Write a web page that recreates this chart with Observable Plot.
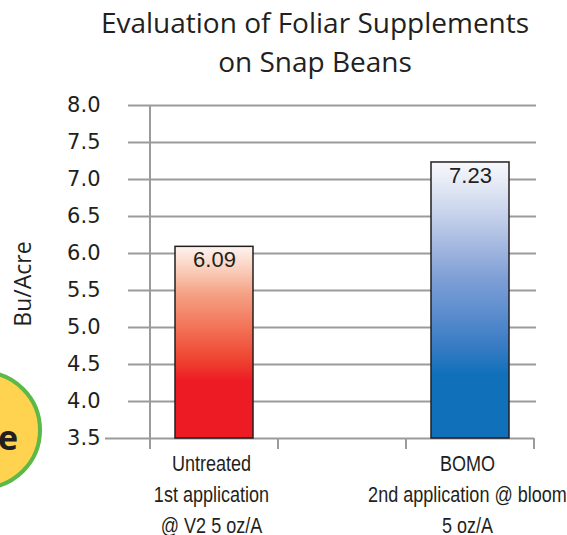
<!DOCTYPE html>
<html>
<head>
<meta charset="utf-8">
<script src="https://cdn.jsdelivr.net/npm/d3@7"></script>
<script src="https://cdn.jsdelivr.net/npm/@observablehq/plot@0.6"></script>
<style>
  html, body { margin: 0; padding: 0; background: #fff; }
  body { width: 567px; height: 535px; position: relative; overflow: hidden; }
  #title { position: absolute; left: 63px; top: 3px; width: 504px; text-align: center;
           font-family: "Open Sans", sans-serif; font-size: 28px; line-height: 39px; color: #231f20; }
  #ylabel { position: absolute; left: -38px; top: 269px; width: 120px; height: 30px; line-height: 30px;
            text-align: center; transform: rotate(-90deg); z-index: 2;
            font-family: "Open Sans", sans-serif; font-size: 23px; color: #231f20; }
  #chart { position: absolute; left: 0; top: 90px; }
  #badge { position: absolute; left: -78px; top: 370px; width: 120px; height: 120px; box-sizing: border-box;
           border-radius: 50%; background: #FFD24F; border: 4px solid #5CB947; z-index: 2; }
  #badgeText { position: absolute; left: -100px; top: 420px; width: 118px; text-align: right; z-index: 3;
               font-family: "Open Sans", sans-serif; font-weight: bold; font-size: 34px; line-height: 34px; color: #231f20; }
</style>
</head>
<body>
<div id="title">Evaluation of Foliar Supplements<br>on Snap Beans</div>
<div id="chart"></div>
<div id="ylabel">Bu/Acre</div>
<div id="badge"></div>
<div id="badgeText">e</div>
<script>
// ---- data ----
const categories = ["Untreated", "BOMO"];
const values = [6.09, 7.23];
const categoryLabels = [
  "Untreated\n1st application\n@ V2 5 oz/A",
  "BOMO\n2nd application @ bloom\n5 oz/A"
];
const emptySlot = " ";               // the original chart has an empty middle slot
const yTicks = [3.5, 4.0, 4.5, 5.0, 5.5, 6.0, 6.5, 7.0, 7.5, 8.0];
// gradient stops (offset from bar bottom, colour)
const gradientStops = [
  [[0, "#ED1C24"], [0.30, "#ED1C24"], [0.41, "#EE4431"], [0.58, "#F27458"], [0.75, "#F5A084"], [0.86, "#F9C8B4"], [1, "#FEF4EF"]],
  [[0, "#1170BA"], [0.23, "#1170BA"], [0.34, "#3A7CC4"], [0.46, "#5E8ECF"], [0.58, "#7F9FD6"], [0.69, "#A2B7E0"], [0.81, "#C6D2EB"], [0.92, "#E4E9F5"], [1, "#F7F8FC"]]
];

const data = categories.map((c, i) => ({category: c, value: values[i], fill: `url(#barGrad${i})`}));
const labelMap = new Map(categories.map((c, i) => [c, categoryLabels[i]]));
const yMin = yTicks[0], yMax = yTicks[yTicks.length - 1];

// gradient definitions + category separators computed from the x scale
const decorations = (index, scales) => {
  const g = d3.create("svg:g");
  const defs = g.append("defs");
  gradientStops.forEach((stops, i) => {
    const lg = defs.append("linearGradient").attr("id", `barGrad${i}`)
      .attr("x1", 0).attr("y1", 1).attr("x2", 0).attr("y2", 0);
    stops.forEach(([o, c]) => lg.append("stop").attr("offset", o).attr("stop-color", c));
  });
  const x = scales.x, y = scales.y;
  const half = (x.step() - x.bandwidth()) / 2;
  const domain = x.domain();
  const bounds = domain.map(d => x(d) - half);
  bounds.push(x(domain[domain.length - 1]) + x.bandwidth() + half);
  const y0 = y(yMin), yTop = y(yMax);
  bounds.forEach((bx, i) => {
    g.append("line")
      .attr("x1", bx).attr("x2", bx)
      .attr("y1", i === 0 ? yTop : y0).attr("y2", y0 + 11)
      .attr("stroke", "#9b9b9b").attr("stroke-width", 2);
  });
  return g.node();
};

const plot = Plot.plot({
  width: 567,
  height: 445,
  marginTop: 15,
  marginBottom: 97,
  marginLeft: 150,
  marginRight: 31,
  x: {domain: [categories[0], emptySlot, categories[1]], range: [150, 534], paddingInner: 0.39, paddingOuter: 0.195},
  y: {domain: [yMin, yMax]},
  color: {type: "identity"},
  marks: [
    Plot.ruleY(yTicks.slice(1), {stroke: "#9b9b9b", strokeWidth: 2, insetLeft: -22}),
    Plot.ruleY([yMin], {stroke: "#9b9b9b", strokeWidth: 2, insetLeft: -45, insetRight: 2}),
    decorations,
    Plot.barY(data, {x: "category", y1: yMin, y2: "value", fill: "fill", stroke: "#231f20", strokeWidth: 1.5}),
    Plot.text(data, {x: "category", y: "value", text: d => d3.format(".2f")(d.value), lineAnchor: "top", dy: 5,
      fontSize: 22, fontFamily: "Liberation Sans, Arial, sans-serif", fill: "#231f20"}),
    Plot.axisY({ticks: yTicks, tickFormat: d3.format(".1f"), tickSize: 0, tickPadding: 50, label: null,
      fontSize: 21, fontFamily: "DejaVu Sans, sans-serif", fill: "#231f20"}),
    Plot.axisX({tickSize: 0, tickPadding: 10, dx: -3, tickFormat: d => labelMap.get(d) ?? "", label: null,
      fontSize: 22, lineHeight: 1.41, fontFamily: "Liberation Sans, Arial, sans-serif", fill: "#231f20"})
  ]
});
// condense the category labels horizontally (the reference uses a condensed face)
const firstLines = new Set(categoryLabels.map(l => l.split("\n")[0]));
d3.select(plot).selectAll("text").each(function () {
  const first = this.querySelector("tspan") ? this.querySelector("tspan").textContent : this.textContent;
  if (!firstLines.has(first)) return;
  const t = this.getAttribute("transform");
  if (t) {
    this.setAttribute("transform", t + " scale(0.82,1)");
  } else {
    const x = +(this.getAttribute("x") || 0);
    this.setAttribute("transform", `translate(${x},0) scale(0.82,1) translate(${-x},0)`);
  }
});
document.getElementById("chart").appendChild(plot);
</script>
</body>
</html>
